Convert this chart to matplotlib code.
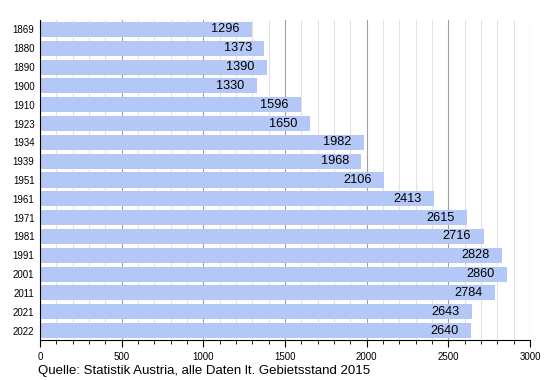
import matplotlib
matplotlib.use("Agg")
import matplotlib.pyplot as plt
from matplotlib.ticker import MultipleLocator

years = ["1869", "1880", "1890", "1900", "1910", "1923", "1934", "1939", "1951",
         "1961", "1971", "1981", "1991", "2001", "2011", "2021", "2022"]
population = [1296, 1373, 1390, 1330, 1596, 1650, 1982, 1968, 2106,
              2413, 2615, 2716, 2828, 2860, 2784, 2643, 2640]
source = "Quelle: Statistik Austria, alle Daten lt. Gebietsstand 2015"

plt.rcParams['font.family'] = ['Liberation Sans', 'DejaVu Sans']

fig = plt.figure(figsize=(5.5, 3.8), dpi=100)
ax = fig.add_axes([40/550, 1-340/380, 490/550, 320/380])

pos = list(range(len(years)))
ax.barh(pos, population, height=0.8, color="#b4c8f8", zorder=2)
for p, v in zip(pos, population):
    ax.annotate(str(v), (v, p), xytext=(-9, 0), textcoords="offset points",
                ha="right", va="center", fontsize=9.2, color="black", zorder=3)

ax.set_xlim(0, 3000)
ax.set_ylim(len(years)-0.5, -0.5)
ax.set_yticks(pos)
ax.set_yticklabels(years, fontsize=7)
ax.tick_params(axis="y", length=0, pad=4)
ax.xaxis.set_major_locator(MultipleLocator(500))
ax.xaxis.set_minor_locator(MultipleLocator(100))
ax.tick_params(axis="x", which="major", length=5, labelsize=7, direction="out", color="black")
ax.tick_params(axis="x", which="minor", length=3, direction="out", color="black")
ax.grid(axis="x", which="major", color="#a0a0a0", linewidth=0.8, zorder=0)
ax.grid(axis="x", which="minor", color="#e2e2e2", linewidth=0.8, zorder=0)
ax.set_axisbelow(True)
for s in ["top", "right"]:
    ax.spines[s].set_visible(False)
ax.spines["left"].set_color("black")
ax.spines["bottom"].set_color("black")

fig.text(38/550, 1-371/380, source, fontsize=9.5, ha="left", va="center")

fig.savefig("out.png", dpi=100)
